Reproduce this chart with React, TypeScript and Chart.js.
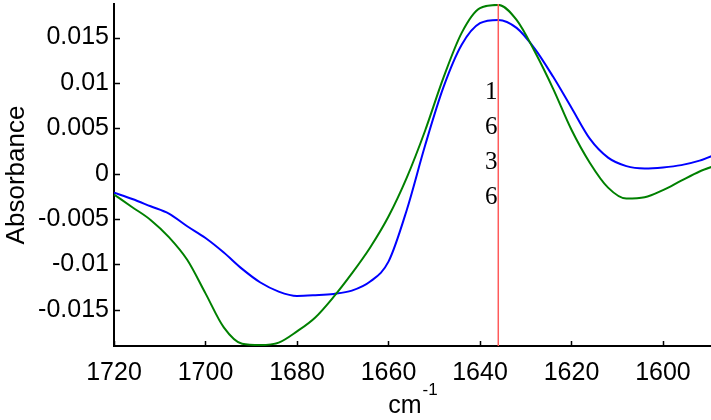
import React, { useEffect, useRef } from "react";
import { Chart, registerables } from "chart.js";

Chart.register(...registerables);

const wavenumbers = [
  1720, 1716, 1712, 1708, 1704, 1700, 1696, 1692, 1688, 1684, 1680, 1676, 1672, 1668,
  1664, 1660, 1656, 1652, 1648, 1644, 1640, 1636, 1632, 1628, 1624, 1620, 1616, 1612,
  1608, 1604, 1600, 1596, 1592, 1588,
];
const blueSeries = [
  -0.0021, -0.0028, -0.0036, -0.0044, -0.0058, -0.0071, -0.0087, -0.0105, -0.012, -0.013,
  -0.01348, -0.0134, -0.01326, -0.0129, -0.0119, -0.0097, -0.004, 0.0031, 0.0095, 0.0142,
  0.01658, 0.01695, 0.01607, 0.01376, 0.01067, 0.00726, 0.00385, 0.00176, 0.00083, 0.00058,
  0.00069, 0.00094, 0.00143, 0.0022,
];
const greenSeries = [
  -0.0023, -0.0037, -0.0051, -0.007, -0.0095, -0.0132, -0.01695, -0.01876, -0.0189, -0.01863,
  -0.01739, -0.01585, -0.01359, -0.011, -0.00814, -0.00473, -0.00044, 0.00473, 0.01056,
  0.01552, 0.01824, 0.0186, 0.01695, 0.01343, 0.00935, 0.00484, 0.00121, -0.00154, -0.00275,
  -0.00261, -0.00182, -0.00077, 0.00024, 0.00099,
];
const xTickValues = [1720, 1700, 1680, 1660, 1640, 1620, 1600];
const xTickLabels = ["1720", "1700", "1680", "1660", "1640", "1620", "1600"];
const yTickValues = [0.015, 0.01, 0.005, 0, -0.005, -0.01, -0.015];
const yTickLabels = ["0.015", "0.01", "0.005", "0", "-0.005", "-0.01", "-0.015"];
const markerPosition = 1636;
const markerLabel = "1636";
const markerLabelTopValue = 0.0089;
const xRange = [1589.5, 1720];
const yRange = [-0.019, 0.0187];

const SANS = "Arial, 'Liberation Sans', sans-serif";
const SERIF = "'Times New Roman', 'Liberation Serif', serif";

const decorPlugin = {
  id: "decor",
  afterDatasetsDraw(chart: any) {
    const { ctx, chartArea, scales } = chart;
    const xs = scales.x;
    const ys = scales.y;
    ctx.save();
    const mx = xs.getPixelForValue(markerPosition);
    ctx.strokeStyle = "#ff5a5a";
    ctx.lineWidth = 1.5;
    ctx.beginPath();
    ctx.moveTo(mx, chartArea.top);
    ctx.lineTo(mx, chartArea.bottom);
    ctx.stroke();
    ctx.fillStyle = "#000";
    ctx.font = `25px ${SERIF}`;
    ctx.textAlign = "center";
    ctx.textBaseline = "middle";
    const y0 = ys.getPixelForValue(markerLabelTopValue);
    markerLabel.split("").forEach((ch, i) => {
      ctx.fillText(ch, mx - 7, y0 + i * 35);
    });
    ctx.strokeStyle = "#000";
    ctx.lineWidth = 1.5;
    ctx.beginPath();
    xTickValues.forEach((v) => {
      const px = Math.round(xs.getPixelForValue(v)) + 0.5;
      ctx.moveTo(px, chartArea.bottom);
      ctx.lineTo(px, chartArea.bottom - 5);
    });
    yTickValues.forEach((v) => {
      const py = Math.round(ys.getPixelForValue(v)) + 0.5;
      ctx.moveTo(chartArea.left, py);
      ctx.lineTo(chartArea.left + 6, py);
    });
    ctx.stroke();
    ctx.restore();
  },
  afterDraw(chart: any) {
    const { ctx, chartArea } = chart;
    ctx.save();
    ctx.fillStyle = "#000";
    ctx.translate(17, (chartArea.top + chartArea.bottom) / 2);
    ctx.rotate(-Math.PI / 2);
    ctx.font = `26px ${SANS}`;
    ctx.textAlign = "center";
    ctx.textBaseline = "middle";
    ctx.fillText("Absorbance", 0, 0);
    ctx.restore();
    ctx.save();
    ctx.fillStyle = "#000";
    ctx.textBaseline = "alphabetic";
    ctx.textAlign = "left";
    const cx = (chartArea.left + chartArea.right) / 2;
    ctx.font = `25px ${SANS}`;
    const w1 = ctx.measureText("cm").width;
    ctx.font = `17px ${SANS}`;
    const w2 = ctx.measureText("-1").width;
    const start = cx - (w1 + w2) / 2;
    ctx.font = `25px ${SANS}`;
    ctx.fillText("cm", start, 413);
    ctx.font = `17px ${SANS}`;
    ctx.fillText("-1", start + w1 + 1, 395);
    ctx.restore();
  },
};

export default function App() {
  const canvasRef = useRef<HTMLCanvasElement | null>(null);

  useEffect(() => {
    document.body.style.margin = "0";
    const canvas = canvasRef.current;
    if (!canvas) return;
    const lineStyle = {
      borderWidth: 2,
      pointRadius: 0,
      cubicInterpolationMode: "monotone" as const,
      fill: false,
    };
    const chart = new Chart(canvas, {
      type: "line",
      data: {
        datasets: [
          {
            label: "green",
            data: wavenumbers.map((x, i) => ({ x, y: greenSeries[i] })),
            borderColor: "#008000",
            ...lineStyle,
          },
          {
            label: "blue",
            data: wavenumbers.map((x, i) => ({ x, y: blueSeries[i] })),
            borderColor: "#0000ff",
            ...lineStyle,
          },
        ],
      },
      options: {
        responsive: false,
        animation: false,
        devicePixelRatio: 1,
        layout: { padding: { top: 4, right: 0, left: 0, bottom: 0 } },
        plugins: { legend: { display: false }, tooltip: { enabled: false } },
        scales: {
          x: {
            type: "linear",
            reverse: true,
            min: xRange[0],
            max: xRange[1],
            afterBuildTicks: (s: any) => {
              s.ticks = xTickValues.map((v) => ({ value: v }));
            },
            afterFit: (s: any) => {
              s.height = 74;
              s.paddingLeft = 0;
              s.paddingRight = 0;
              s.paddingTop = 0;
              s.paddingBottom = 0;
            },
            grid: { display: false, drawTicks: false },
            border: { display: true, color: "#000", width: 2 },
            ticks: {
              color: "#000",
              font: { family: SANS, size: 25 },
              padding: 12,
              maxRotation: 0,
              autoSkip: false,
              callback: (v: any) => {
                const i = xTickValues.indexOf(Number(v));
                return i >= 0 ? xTickLabels[i] : "";
              },
            },
          },
          y: {
            type: "linear",
            min: yRange[0],
            max: yRange[1],
            afterBuildTicks: (s: any) => {
              s.ticks = yTickValues.map((v) => ({ value: v }));
            },
            afterFit: (s: any) => {
              s.width = 114;
              s.paddingLeft = 0;
              s.paddingRight = 0;
              s.paddingTop = 0;
              s.paddingBottom = 0;
            },
            grid: { display: false, drawTicks: false },
            border: { display: true, color: "#000", width: 2 },
            ticks: {
              color: "#000",
              font: { family: SANS, size: 25 },
              padding: 5,
              autoSkip: false,
              callback: (v: any) => {
                const i = yTickValues.findIndex((t) => Math.abs(t - Number(v)) < 1e-9);
                return i >= 0 ? yTickLabels[i] : "";
              },
            },
          },
        },
      },
      plugins: [decorPlugin],
    });
    return () => chart.destroy();
  }, []);

  return (
    <div style={{ width: 711, height: 420 }}>
      <canvas ref={canvasRef} width={711} height={420} style={{ display: "block" }} />
    </div>
  );
}
